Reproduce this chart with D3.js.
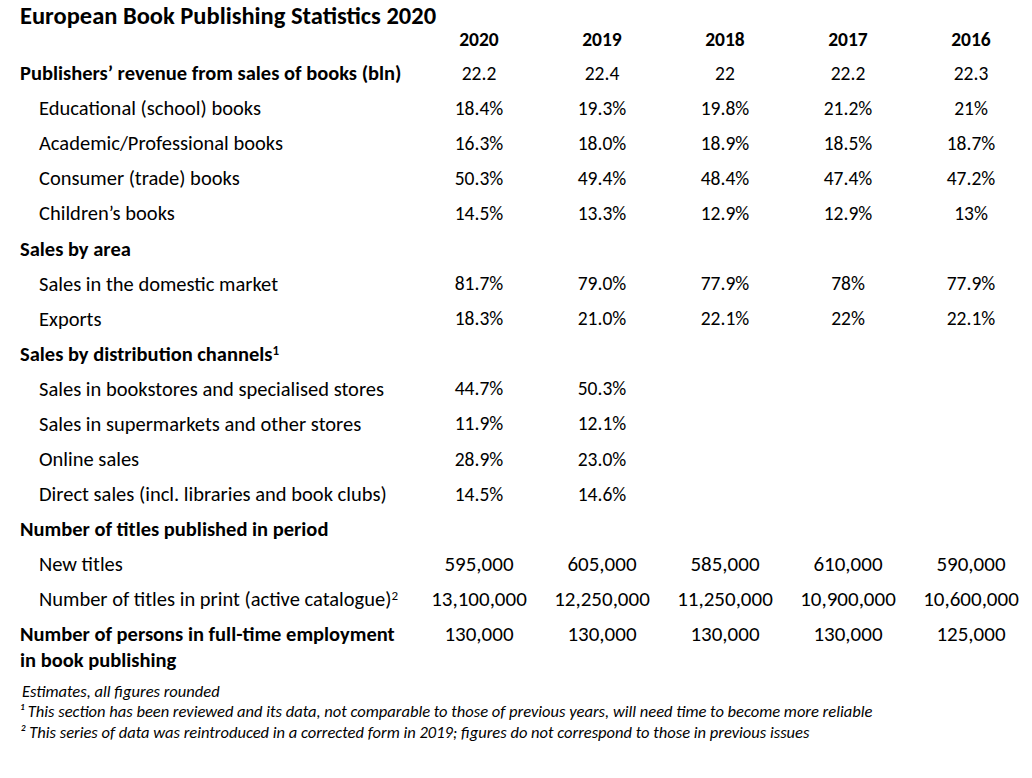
<!DOCTYPE html>
<html>
<head>
<meta charset="utf-8">
<script src="https://cdn.jsdelivr.net/npm/d3@7"></script>
<style>
  body { margin: 0; background: #fff; }
  svg text { font-family: Carlito, Calibri, Lato, sans-serif; fill: #000; }
</style>
</head>
<body>
<div id="chart"></div>
<script>
// table data
var title = 'European Book Publishing Statistics 2020';
var years = ['2020', '2019', '2018', '2017', '2016'];

var revenue = ['22.2', '22.4', '22', '22.2', '22.3'];
var educational = ['18.4%', '19.3%', '19.8%', '21.2%', '21%'];
var academic = ['16.3%', '18.0%', '18.9%', '18.5%', '18.7%'];
var consumer = ['50.3%', '49.4%', '48.4%', '47.4%', '47.2%'];
var children = ['14.5%', '13.3%', '12.9%', '12.9%', '13%'];
var domestic = ['81.7%', '79.0%', '77.9%', '78%', '77.9%'];
var exports = ['18.3%', '21.0%', '22.1%', '22%', '22.1%'];
var bookstores = ['44.7%', '50.3%'];
var supermarkets = ['11.9%', '12.1%'];
var online = ['28.9%', '23.0%'];
var direct = ['14.5%', '14.6%'];
var newTitles = ['595,000', '605,000', '585,000', '610,000', '590,000'];
var inPrint = ['13,100,000', '12,250,000', '11,250,000', '10,900,000', '10,600,000'];
var employment = ['130,000', '130,000', '130,000', '130,000', '125,000'];

var footnotes = [
  'Estimates, all figures rounded',
  '\u00b9 This section has been reviewed and its data, not comparable to those of previous years, will need time to become more reliable',
  '\u00b2 This series of data was reintroduced in a corrected form in 2019; figures do not correspond to those in previous issues'
];

// rows: label, superscript, bold section or indented item, values, large numbers
var rows = [
  {label: 'Publishers\u2019 revenue from sales of books (bln)', head: true, values: revenue},
  {label: 'Educational (school) books', values: educational},
  {label: 'Academic/Professional books', values: academic},
  {label: 'Consumer (trade) books', values: consumer},
  {label: 'Children\u2019s books', values: children},
  {label: 'Sales by area', head: true, values: []},
  {label: 'Sales in the domestic market', values: domestic},
  {label: 'Exports', values: exports},
  {label: 'Sales by distribution channels', sup: '1', head: true, values: []},
  {label: 'Sales in bookstores and specialised stores', values: bookstores},
  {label: 'Sales in supermarkets and other stores', values: supermarkets},
  {label: 'Online sales', values: online},
  {label: 'Direct sales (incl. libraries and book clubs)', values: direct},
  {label: 'Number of titles published in period', head: true, values: []},
  {label: 'New titles', values: newTitles, big: true},
  {label: 'Number of titles in print (active catalogue)', sup: '2', values: inPrint, big: true},
  {label: 'Number of persons in full-time employment', label2: 'in book publishing', head: true, values: employment, big: true}
];

var width = 1032, height = 778;

var svg = d3.select('#chart')
  .append('svg')
  .attr('width', width)
  .attr('height', height);

// column and row positions
var x = d3.scalePoint().domain(years).range([479, 971]);
var y = d3.scaleLinear().domain([0, rows.length - 1]).range([73, 634]);

svg.append('text')
  .attr('x', 20)
  .attr('y', 24)
  .attr('font-size', 24.5)
  .attr('font-weight', 'bold')
  .text(title);

svg.selectAll('.year')
  .data(years)
  .enter()
  .append('text')
  .attr('class', 'year')
  .attr('x', function(d){ return x(d); })
  .attr('y', 39)
  .attr('dy', '0.35em')
  .attr('text-anchor', 'middle')
  .attr('font-size', 19.5)
  .attr('font-weight', 'bold')
  .text(function(d){ return d; });

var row = svg.selectAll('.row')
  .data(rows)
  .enter()
  .append('g')
  .attr('class', 'row')
  .attr('transform', function(d, i){ return 'translate(0,' + y(i) + ')'; });

var label = row.append('text')
  .attr('x', function(d){ return d.head ? 20 : 39; })
  .attr('dy', '0.35em')
  .attr('font-size', 20.5)
  .attr('font-weight', function(d){ return d.head ? 'bold' : 'normal'; });

label.append('tspan').text(function(d){ return d.label; });
label.filter(function(d){ return d.sup; })
  .append('tspan')
  .attr('dy', '-0.45em')
  .attr('font-size', 13)
  .text(function(d){ return d.sup; });

row.filter(function(d){ return d.label2; })
  .append('text')
  .attr('x', 20)
  .attr('y', 26)
  .attr('dy', '0.35em')
  .attr('font-size', 20.5)
  .attr('font-weight', 'bold')
  .text(function(d){ return d.label2; });

row.selectAll('.val')
  .data(function(d){ return d.values.map(function(v, j){ return {year: years[j], v: v, big: d.big}; }); })
  .enter()
  .append('text')
  .attr('class', 'val')
  .attr('x', function(d){ return x(d.year); })
  .attr('dy', '0.35em')
  .attr('text-anchor', 'middle')
  .attr('font-size', function(d){ return d.big ? 21 : 19.5; })
  .text(function(d){ return d.v; });

svg.selectAll('.note')
  .data(footnotes)
  .enter()
  .append('text')
  .attr('class', 'note')
  .attr('x', function(d, i){ return i === 0 ? 22 : 20; })
  .attr('y', function(d, i){ return 691 + i * 20.5; })
  .attr('dy', '0.35em')
  .attr('font-size', 16.5)
  .attr('font-style', 'italic')
  .text(function(d){ return d; });
</script>
</body>
</html>
